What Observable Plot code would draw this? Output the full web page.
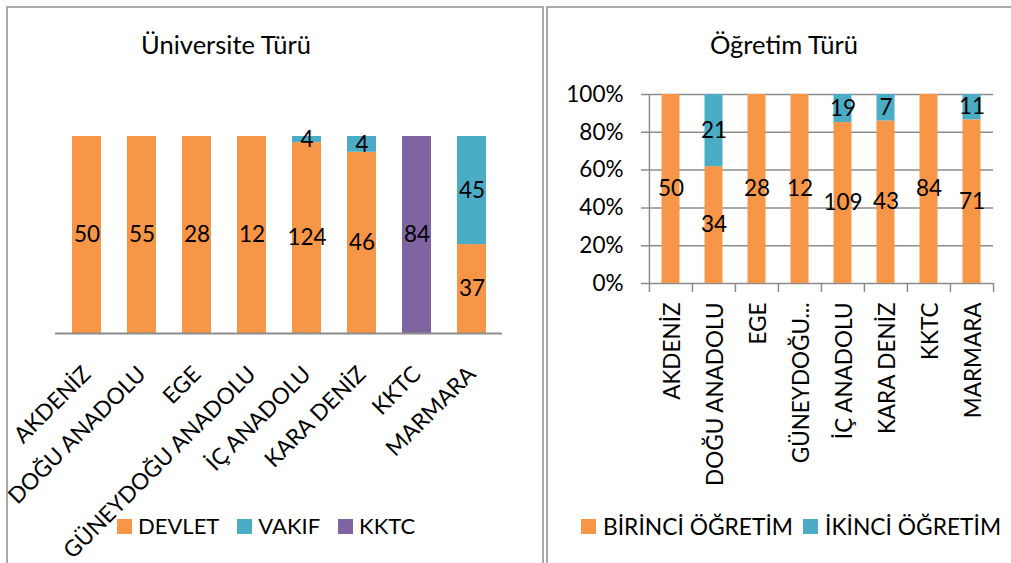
<!DOCTYPE html>
<html>
<head>
<meta charset="utf-8">
<script src="https://cdn.jsdelivr.net/npm/d3@7"></script>
<script src="https://cdn.jsdelivr.net/npm/@observablehq/plot@0.6"></script>
<style>
  html, body { margin: 0; padding: 0; background: #fff; }
  body { width: 1011px; height: 563px; position: relative; overflow: hidden; font-family: Lato, "Open Sans", sans-serif; color: #000; }
  .panel { position: absolute; top: 6px; height: 600px; border: 2px solid #a9a9a9; border-bottom: none; box-sizing: border-box; }
  .title { position: absolute; width: 400px; text-align: center; font-size: 25.5px; line-height: 26px; white-space: nowrap; }
  .chart { position: absolute; top: 0; }
  .legend { position: absolute; display: flex; align-items: center; font-size: 22px; line-height: 22px; white-space: nowrap; }
  .item { display: flex; align-items: center; }
  .sw { width: 15px; height: 15px; display: inline-block; }
</style>
</head>
<body>
<div class="panel" style="left:6px; width:538px;"></div>
<div class="panel" style="left:546px; width:480px;"></div>
<div class="title" id="t1" style="left:26px; top:31px;">Üniversite Türü</div>
<div class="title" id="t2" style="left:584px; top:31px;">Öğretim Türü</div>
<div class="chart" id="left" style="left:0px;"></div>
<div class="chart" id="right" style="left:546px;"></div>
<div class="legend" id="leg1" style="left:117px; top:515px;"></div>
<div class="legend" id="leg2" style="left:581px; top:515px; font-size:22.8px;"></div>
<script>
// ---------- data ----------
const regions = ["AKDENİZ", "DOĞU ANADOLU", "EGE", "GÜNEYDOĞU ANADOLU", "İÇ ANADOLU", "KARA DENİZ", "KKTC", "MARMARA"];
const devlet = [50, 55, 28, 12, 124, 46, 0, 37];
const vakif  = [0, 0, 0, 0, 4, 4, 0, 45];
const kktc   = [0, 0, 0, 0, 0, 0, 84, 0];
const leftTypes  = ["DEVLET", "VAKIF", "KKTC"];
const leftColors = ["#F79646", "#4BACC6", "#8064A2"];

const birinci = [50, 34, 28, 12, 109, 43, 84, 71];
const ikinci  = [0, 21, 0, 0, 19, 7, 0, 11];
const rightTypes  = ["BİRİNCİ ÖĞRETİM", "İKİNCİ ÖĞRETİM"];
const rightColors = ["#F79646", "#4BACC6"];
const rightTickLabels = ["AKDENİZ", "DOĞU ANADOLU", "EGE", "GÜNEYDOĞU...", "İÇ ANADOLU", "KARA DENİZ", "KKTC", "MARMARA"];
const yTicks = [0, 0.2, 0.4, 0.6, 0.8, 1];

// ---------- tables ----------
const leftSeries = [devlet, vakif, kktc];
const leftData = leftTypes.flatMap((t, k) => regions.map((r, i) => ({region: r, type: t, value: leftSeries[k][i]})));
const rightSeries = [birinci, ikinci];
const rightData = rightTypes.flatMap((t, k) => regions.map((r, i) => ({region: r, type: t, value: rightSeries[k][i]})));

const font = "Lato, 'Open Sans', sans-serif";
const gray = "#8c8c8c";

// ---------- left chart ----------
const LW = 545, LH = 563;
const left = Plot.plot({
  width: LW, height: LH,
  marginLeft: 55, marginRight: 43, marginTop: 136, marginBottom: LH - 333,
  style: {fontFamily: font, fontSize: "22.5px", color: "#000", background: "transparent", overflow: "visible"},
  x: {domain: regions, paddingInner: 0.48, paddingOuter: 0.24, label: null},
  y: {domain: [0, 1], axis: null},
  color: {domain: leftTypes, range: leftColors},
  marks: [
    Plot.barY(leftData, Plot.stackY({offset: "normalize", x: "region", y: "value", z: "type", fill: "type"})),
    Plot.ruleY([0], {stroke: gray, strokeWidth: 2}),
    Plot.text(leftData.filter(d => d.value > 0), Plot.stackY({offset: "normalize", x: "region", y: "value", z: "type", text: "value", fill: "#000"})),
    Plot.axisX({tickRotate: -45, tickSize: 0, tickPadding: 37, dx: 0, fill: "#000", label: null})
  ]
});
document.getElementById("left").append(left);

// ---------- right chart ----------
const RW = 465, RH = 563, RML = 102, RMR = 18;
const step = (RW - RML - RMR) / regions.length;
const right = Plot.plot({
  width: RW, height: RH,
  marginLeft: RML, marginRight: RMR, marginTop: 94, marginBottom: RH - 283,
  style: {fontFamily: font, fontSize: "22.5px", color: "#000", background: "transparent", overflow: "visible"},
  x: {domain: regions, padding: 0, label: null},
  y: {domain: [0, 1], label: null},
  color: {domain: rightTypes, range: rightColors},
  marks: [
    Plot.ruleY(yTicks, {stroke: gray, strokeWidth: 1.5, insetLeft: -7}),
    Plot.barY(rightData, Plot.stackY({offset: "normalize", x: "region", y: "value", z: "type", fill: "type", insetLeft: 12.5, insetRight: 12.5})),
    Plot.ruleX([regions[0]], {x: d => d, dx: -step / 2, y1: 1, y2: 0, insetBottom: -9, stroke: gray, strokeWidth: 1.5}),
    Plot.ruleX(regions.slice(1), {x: d => d, dx: -step / 2, y1: 0, y2: 0, insetBottom: -9, stroke: gray, strokeWidth: 1.5}),
    Plot.ruleX([regions[regions.length - 1]], {x: d => d, dx: step / 2, y1: 0, y2: 0, insetBottom: -9, stroke: gray, strokeWidth: 1.5}),
    Plot.text(rightData.filter(d => d.value > 0), Plot.stackY({offset: "normalize", x: "region", y: "value", z: "type", text: "value", fill: "#000"})),
    Plot.axisY({ticks: yTicks, tickFormat: d => Math.round(d * 100) + "%", tickSize: 0, tickPadding: 25, fill: "#000", label: null}),
    Plot.axisX({tickRotate: -90, tickSize: 0, tickPadding: 19, dx: 1.5, tickFormat: d => rightTickLabels[regions.indexOf(d)], fill: "#000", label: null})
  ]
});
document.getElementById("right").append(right);

// ---------- legends ----------
function legend(el, types, colors, gapSw, gapItem) {
  types.forEach((t, i) => {
    const it = document.createElement("div");
    it.className = "item";
    if (i > 0) it.style.marginLeft = gapItem + "px";
    const sw = document.createElement("span");
    sw.className = "sw";
    sw.style.background = colors[i];
    sw.style.marginRight = gapSw + "px";
    const tx = document.createElement("span");
    tx.textContent = t;
    it.append(sw, tx);
    el.append(it);
  });
}
legend(document.getElementById("leg1"), leftTypes, leftColors, 6, 18);
legend(document.getElementById("leg2"), rightTypes, rightColors, 7, 10);
</script>
</body>
</html>
